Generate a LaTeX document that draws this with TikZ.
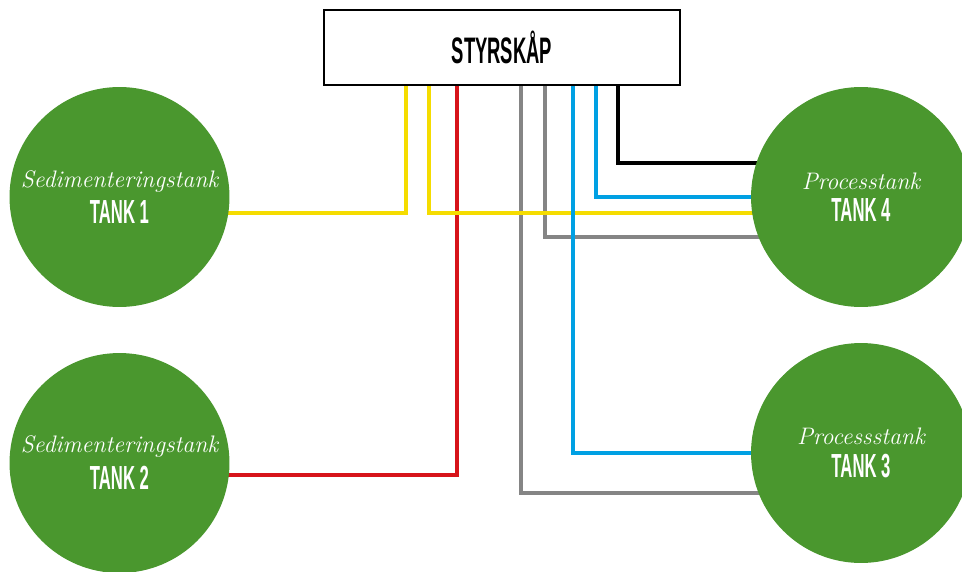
\documentclass[tikz,border=0pt]{standalone}
\usepackage{fontspec}
\usepackage{tikz}
\usetikzlibrary{calc}
\usetikzlibrary{backgrounds}
\newfontfamily\capsfont[FakeStretch=0.5]{Liberation Sans}
\definecolor{tankgreen}{RGB}{74,151,46}
\definecolor{wireyellow}{RGB}{245,220,0}
\definecolor{wirered}{RGB}{215,20,26}
\definecolor{wiregray}{RGB}{133,133,133}
\definecolor{wireblue}{RGB}{0,160,227}
\tikzset{
  skapbox/.style={draw=black, line width=1.2pt, fill=white, minimum width=7.12cm, minimum height=1.5cm, font=\capsfont\bfseries\fontsize{21}{22}\selectfont},
  tank/.style={circle, fill=tankgreen, minimum size=4.4cm, inner sep=0pt, align=center, text=white},
  wire/.style={line width=2.3pt},
}
\newcommand{\tanklabel}[2]{{\itshape\fontsize{13.6}{16}\selectfont #1}\\[4pt]{\capsfont\bfseries\fontsize{19}{20}\selectfont #2}}

\begin{document}
\begin{tikzpicture}[x=0.02cm,y=-0.02cm]
\useasboundingbox (0,0) rectangle (962,571);
\node [skapbox] (skap) at (502,47.5) {STYRSKÅP};
\node [tank] (tank1) at (119.5,197) {\tanklabel{Sedimenteringstank}{TANK 1}};
\node [tank] (tank2) at (119.5,463) {\tanklabel{Sedimenteringstank}{TANK 2}};
\node [tank] (tank4) at (861,197) {\tanklabel{Processtank}{TANK 4}};
\node [tank] (tank3) at (861,453) {\tanklabel{Processstank}{TANK 3}};

\begin{scope}[on background layer]
\draw [wire, wirered]    (457,0 |- skap.south) |- (tank2 |- 0,475);
\draw [wire, wiregray]   (521,0 |- skap.south) |- (tank3 |- 0,493);
\draw [wire, wiregray]   (545,0 |- skap.south) |- (tank4 |- 0,237);
\draw [wire, wireyellow] (406,0 |- skap.south) |- (tank1 |- 0,213);
\draw [wire, wireyellow] (429,0 |- skap.south) |- (tank4 |- 0,213);
\draw [wire, wireblue]   (573,0 |- skap.south) |- (tank3 |- 0,453);
\draw [wire, wireblue]   (596,0 |- skap.south) |- (tank4 |- 0,197);
\draw [wire, black]      (618,0 |- skap.south) |- (tank4 |- 0,163);
\end{scope}
\end{tikzpicture}
\end{document}
